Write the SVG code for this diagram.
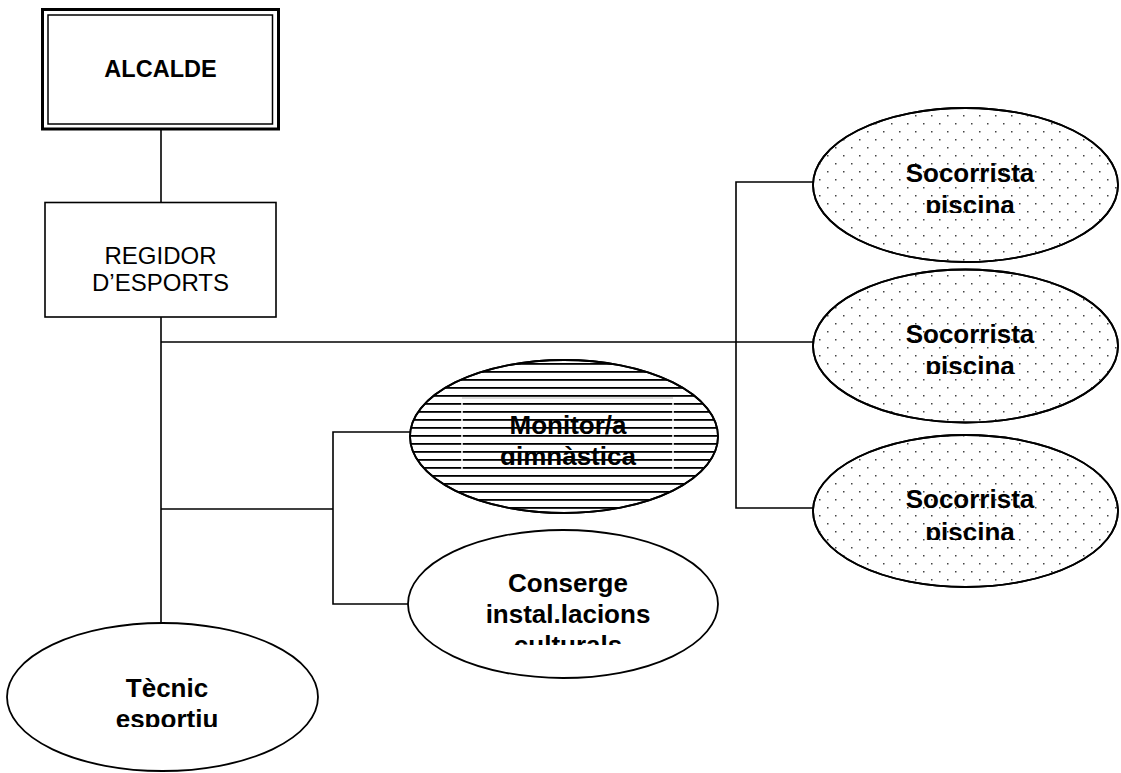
<svg xmlns="http://www.w3.org/2000/svg" width="1121" height="773" viewBox="0 0 1121 773">
<style>
.ln{stroke:#000;stroke-width:1.6;fill:none}
.el{stroke:#000;stroke-width:1.8}
.bt{font-family:"Liberation Sans",Arial,sans-serif;font-weight:bold;font-size:26px;fill:#000;text-anchor:middle}
.rt{font-family:"Liberation Sans",Arial,sans-serif;font-size:24px;fill:#000;text-anchor:middle}
</style>
<defs>
<pattern id="dots" width="16" height="16" patternUnits="userSpaceOnUse">
<rect x="3" y="3" width="1.5" height="1.5" fill="#444"/>
<rect x="11" y="11" width="1.5" height="1.5" fill="#444"/>
</pattern>
<pattern id="stripes" width="8" height="8" patternUnits="userSpaceOnUse">
<rect x="0" y="3" width="8" height="1.8" fill="#000"/>
</pattern>
<clipPath id="cS1"><rect x="850" y="140" width="240" height="73"/></clipPath>
<clipPath id="cS2"><rect x="850" y="300" width="240" height="74"/></clipPath>
<clipPath id="cS3"><rect x="850" y="466" width="240" height="74"/></clipPath>
<clipPath id="cM"><rect x="440" y="398" width="250" height="67"/></clipPath>
<clipPath id="cC"><rect x="430" y="550" width="280" height="95"/></clipPath>
<clipPath id="cT"><rect x="40" y="650" width="250" height="77"/></clipPath>
</defs>
<rect width="1121" height="773" fill="#fff"/>
<g id="connectors">
<line class="ln" x1="161" y1="129" x2="161" y2="202"/>
<line class="ln" x1="161" y1="317" x2="161" y2="623"/>
<line class="ln" x1="161" y1="342" x2="813" y2="342"/>
<polyline class="ln" points="813,182 736,182 736,508 813,508"/>
<line class="ln" x1="161" y1="509" x2="333" y2="509"/>
<polyline class="ln" points="410,432 333,432 333,604 408,604"/>
</g>
<g id="alcalde">
<rect x="42.5" y="9.5" width="236" height="119.5" fill="#fff" stroke="#000" stroke-width="3"/>
<rect x="48" y="15" width="224.5" height="109" fill="none" stroke="#000" stroke-width="1.5"/>
<text x="160.5" y="77" font-family="Liberation Sans, Arial, sans-serif" font-weight="bold" font-size="23.5" text-anchor="middle">ALCALDE</text>
</g>
<g id="regidor">
<rect x="45" y="202.5" width="231" height="114.5" fill="#fff" stroke="#000" stroke-width="1.6"/>
<text class="rt" x="160.5" y="264">REGIDOR</text>
<text class="rt" x="160.5" y="291">D’ESPORTS</text>
</g>
<g id="socorrista1">
<ellipse class="el" cx="965.5" cy="185" rx="152.5" ry="77" fill="#fff"/>
<ellipse cx="965.5" cy="185" rx="152.5" ry="77" fill="url(#dots)" stroke="#000" stroke-width="1.8"/>
<g clip-path="url(#cS1)"><text class="bt" x="970" y="182">Socorrista</text><text class="bt" x="970" y="214">piscina</text></g>
</g>
<g id="socorrista2">
<ellipse class="el" cx="965.5" cy="346" rx="152.5" ry="76.5" fill="#fff"/>
<ellipse cx="965.5" cy="346" rx="152.5" ry="76.5" fill="url(#dots)" stroke="#000" stroke-width="1.8"/>
<g clip-path="url(#cS2)"><text class="bt" x="970" y="343">Socorrista</text><text class="bt" x="970" y="375">piscina</text></g>
</g>
<g id="socorrista3">
<ellipse class="el" cx="965.5" cy="511" rx="152.5" ry="76" fill="#fff"/>
<ellipse cx="965.5" cy="511" rx="152.5" ry="76" fill="url(#dots)" stroke="#000" stroke-width="1.8"/>
<g clip-path="url(#cS3)"><text class="bt" x="970" y="508">Socorrista</text><text class="bt" x="970" y="541">piscina</text></g>
</g>
<g id="monitor">
<ellipse class="el" cx="564" cy="436.5" rx="154" ry="76.5" fill="#fff"/>
<g clip-path="url(#cM)"><text class="bt" x="568" y="434">Monitor/a</text><text class="bt" x="568" y="465">gimnàstica</text></g>
<ellipse cx="564" cy="436.5" rx="154" ry="76.5" fill="url(#stripes)" stroke="#000" stroke-width="1.8"/>
<line x1="462" y1="398" x2="462" y2="473" stroke="#fff" stroke-width="1.5"/>
<line x1="673" y1="398" x2="673" y2="473" stroke="#fff" stroke-width="1.5"/>
<line x1="462" y1="398" x2="673" y2="398" stroke="#bbb" stroke-width="1"/>
</g>
<g id="conserge">
<ellipse class="el" cx="563" cy="604" rx="155" ry="74" fill="#fff"/>
<g clip-path="url(#cC)"><text class="bt" x="568" y="592">Conserge</text><text class="bt" x="568" y="623">instal.lacions</text><text class="bt" x="568" y="654">culturals</text></g>
</g>
<g id="tecnic">
<ellipse class="el" cx="162.5" cy="697" rx="155.5" ry="74" fill="#fff"/>
<g clip-path="url(#cT)"><text class="bt" x="167" y="697">Tècnic</text><text class="bt" x="167" y="728">esportiu</text></g>
</g>
</svg>
